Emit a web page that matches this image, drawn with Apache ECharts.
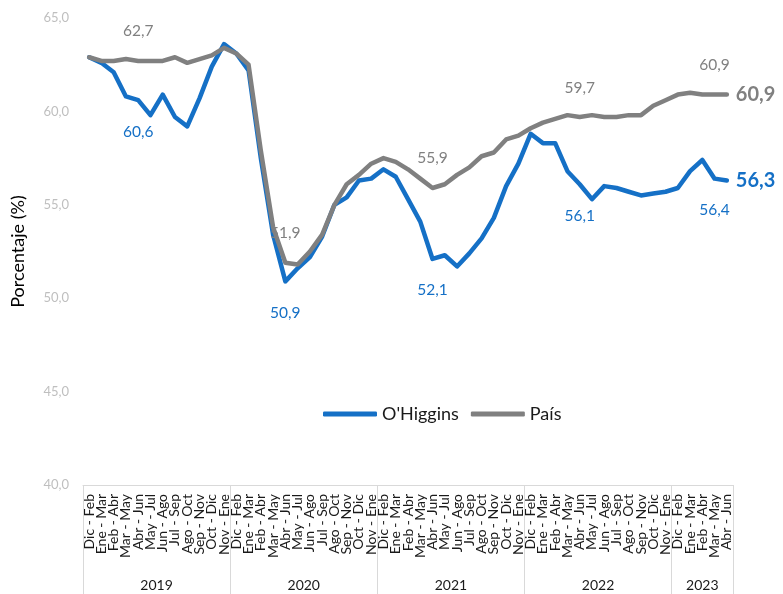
<!DOCTYPE html>
<html>
<head>
<meta charset="utf-8">
<script src="https://cdn.jsdelivr.net/npm/echarts@6/dist/echarts.min.js"></script>
<style>
html,body{margin:0;padding:0;background:#fff;}
#chart{width:783px;height:594px;}
</style>
</head>
<body>
<div id="chart"></div>
<script>
// ---- Data ----
const months = ['Dic - Feb','Ene - Mar','Feb - Abr','Mar - May','Abr - Jun','May - Jul','Jun - Ago','Jul - Sep','Ago - Oct','Sep - Nov','Oct - Dic','Nov - Ene'];
const years = ['2019','2020','2021','2022','2023'];
const yearCounts = [12,12,12,12,5];
const categories = [];
yearCounts.forEach(function(c){ for (let k=0;k<c;k++) categories.push(months[k]); });

const ohiggins = [62.9,62.6,62.1,60.8,60.6,59.8,60.9,59.7,59.2,60.7,62.4,63.6,
                  63.1,62.2,57.5,53.4,50.9,51.6,52.2,53.3,55.0,55.4,56.3,56.4,
                  56.9,56.5,55.3,54.1,52.1,52.3,51.7,52.4,53.2,54.3,56.0,57.2,
                  58.8,58.3,58.3,56.8,56.1,55.3,56.0,55.9,55.7,55.5,55.6,55.7,
                  55.9,56.8,57.4,56.4,56.3];
const pais =     [62.9,62.7,62.7,62.8,62.7,62.7,62.7,62.9,62.6,62.8,63.0,63.4,
                  63.1,62.5,57.9,53.8,51.9,51.8,52.5,53.4,55.0,56.1,56.6,57.2,
                  57.5,57.3,56.9,56.4,55.9,56.1,56.6,57.0,57.6,57.8,58.5,58.7,
                  59.1,59.4,59.6,59.8,59.7,59.8,59.7,59.7,59.8,59.8,60.3,60.6,
                  60.9,61.0,60.9,60.9,60.9];
const labelIdx = [4,16,28,40,51];
const yTicks = [40,45,50,55,60,65];

// ---- Helpers ----
const FONT = 'Lato, "Noto Sans", sans-serif';
const BLUE = '#1570c6';
const GRAY = '#808080';
const fmt = function(v){ return Number(v).toFixed(1).replace('.', ','); };

const boundaries = [0];
yearCounts.forEach(function(c){ boundaries.push(boundaries[boundaries.length-1]+c); });
const mids = yearCounts.map(function(c,i){ return boundaries[i] + c/2; });

function buildData(values, pos, dist, color){
  return values.map(function(v,i){
    if (labelIdx.indexOf(i) >= 0) {
      return {value: v, label: {show: true, position: pos, distance: dist,
              formatter: function(p){ return fmt(p.value); },
              color: color, fontSize: 15.5, fontFamily: FONT}};
    }
    return v;
  });
}

const chart = echarts.init(document.getElementById('chart'));
chart.setOption({
  animation: false,
  backgroundColor: '#ffffff',
  grid: {left: 83, right: 50, top: 18, bottom: 109, containLabel: false},
  legend: {
    left: 318, top: 400,
    icon: 'roundRect',
    itemWidth: 54, itemHeight: 5, itemGap: 12,
    textStyle: {fontSize: 18, color: '#1a1a1a', fontFamily: FONT},
    data: ["O'Higgins", 'País']
  },
  xAxis: [{
    type: 'category',
    data: categories,
    boundaryGap: true,
    axisLine: {show: true, lineStyle: {color: '#d9d9d9', width: 1}},
    axisTick: {show: false},
    axisLabel: {rotate: 90, interval: 0, margin: 9, fontSize: 14, color: '#1a1a1a', fontFamily: FONT}
  },{
    type: 'value',
    position: 'bottom',
    min: 0, max: boundaries[boundaries.length-1],
    axisLine: {show: false},
    splitLine: {show: false},
    axisTick: {show: true, customValues: boundaries, length: 110, lineStyle: {color: '#d9d9d9', width: 1}},
    axisLabel: {show: true, customValues: mids, margin: 93, fontSize: 14, color: '#1a1a1a', fontFamily: FONT,
      formatter: function(v){ const k = mids.indexOf(v); return k >= 0 ? years[k] : ''; }}
  }],
  yAxis: {
    type: 'value',
    min: yTicks[0], max: yTicks[yTicks.length-1], interval: 5,
    name: 'Porcentaje (%)',
    nameLocation: 'middle',
    nameGap: 56,
    nameTextStyle: {fontSize: 18, color: '#000', fontFamily: FONT},
    axisLine: {show: false},
    axisTick: {show: false},
    splitLine: {show: false},
    axisLabel: {formatter: fmt, fontSize: 13, color: '#bfbfbf', margin: 14, fontFamily: FONT}
  },
  series: [{
    name: "O'Higgins",
    type: 'line',
    data: buildData(ohiggins, 'bottom', 23, BLUE),
    symbol: 'circle',
    symbolSize: 1,
    showSymbol: true,
    lineStyle: {color: BLUE, width: 4.5, cap: 'round', join: 'round'},
    itemStyle: {color: BLUE},
    endLabel: {show: true, formatter: function(p){ return fmt(p.value); }, color: BLUE,
      fontSize: 20, fontWeight: 'bold', fontFamily: FONT, distance: 9},
    z: 2
  },{
    name: 'País',
    type: 'line',
    data: buildData(pais, 'top', 21, GRAY),
    symbol: 'circle',
    symbolSize: 1,
    showSymbol: true,
    lineStyle: {color: GRAY, width: 4.5, cap: 'round', join: 'round'},
    itemStyle: {color: GRAY},
    endLabel: {show: true, formatter: function(p){ return fmt(p.value); }, color: GRAY,
      fontSize: 20, fontWeight: 'bold', fontFamily: FONT, distance: 9},
    z: 3
  }]
});
</script>
</body>
</html>
